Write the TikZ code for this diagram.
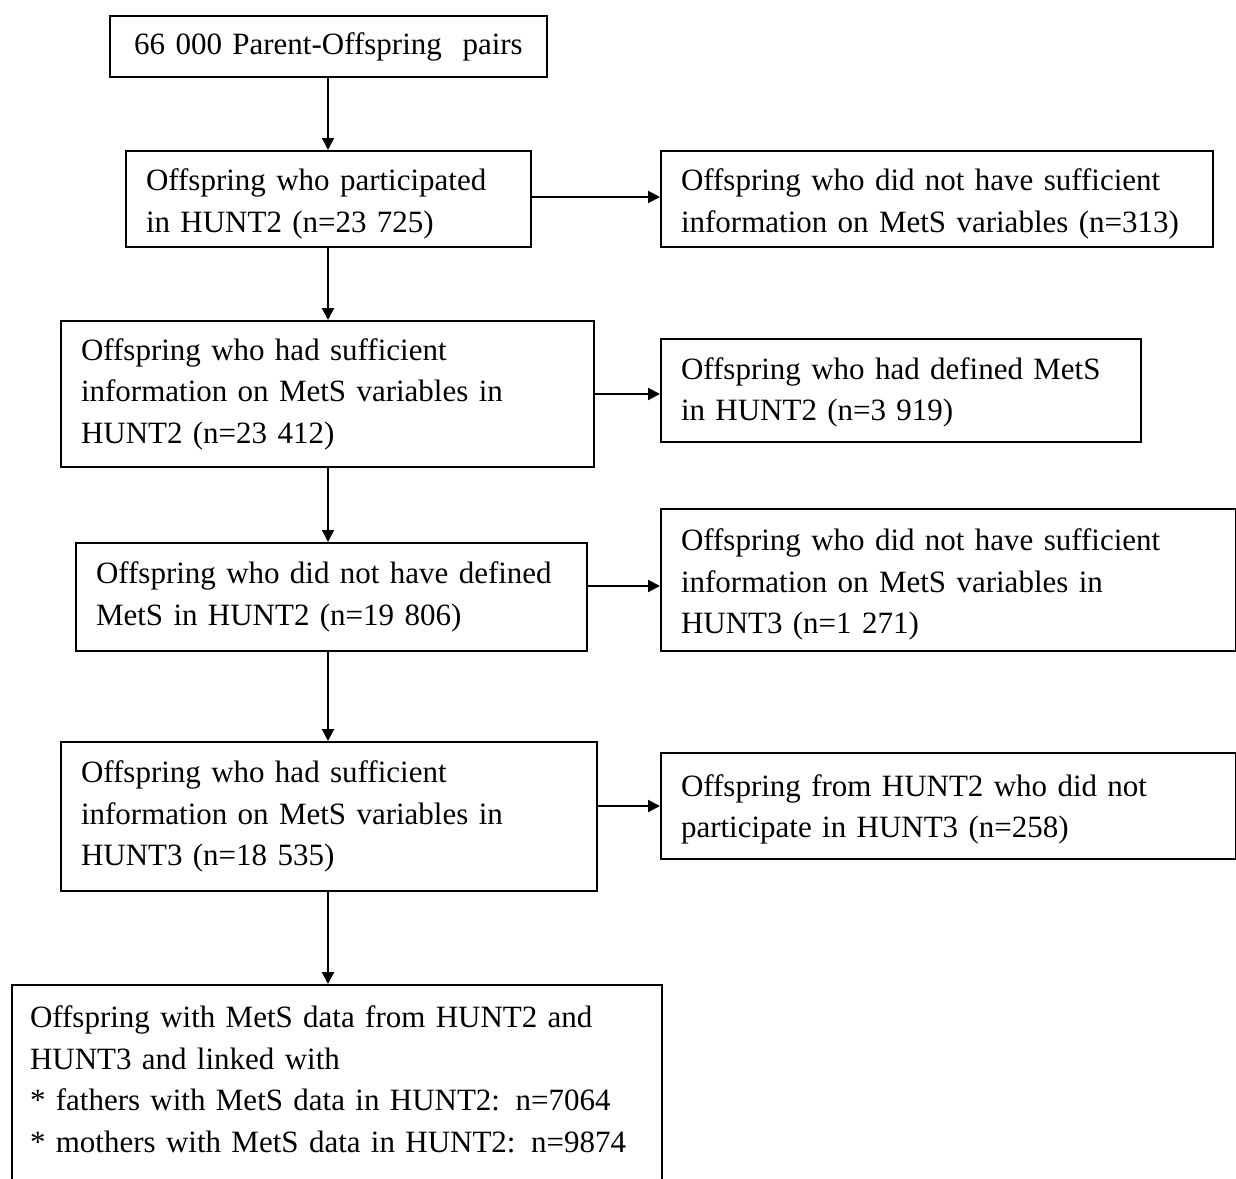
\documentclass[tikz,border=0pt]{standalone}
\usepackage{fontspec}
\setmainfont{Liberation Serif}
\usetikzlibrary{arrows.meta}
\newcommand\liftup[1]{\rule{0pt}{#1}}
\newcommand\dropdn[1]{\rule[-#1]{0pt}{0pt}}
\begin{document}
\begin{tikzpicture}[x=0.5pt,y=-0.5pt,
  box/.style={draw, line width=1pt, inner xsep=10pt, inner ysep=0pt, anchor=north west,
    align=left, font=\fontsize{15.5}{20.8}\selectfont},
  arr/.style={-{Triangle[length=6pt,width=6pt]}, line width=1pt}]
\useasboundingbox (0,0) rectangle (1236,1178);
\clip (0,0) rectangle (1236,1178);
\coordinate (v) at (328,0);
\node[box, align=center, text width=198.5pt, minimum height=30.5pt] (top) at (109,15)
  {66 000 Parent-Offspring\ \ pairs};
\node[box, text width=182.5pt, minimum height=48pt] (b2) at (125,150)
  {\liftup{15.6pt}Offspring who participated\\ in HUNT2 (n=23 725)};
\node[box, text width=256pt, minimum height=48pt] (r1) at (660,150)
  {\liftup{15.6pt}Offspring who did not have sufficient\\ information on MetS variables (n=313)};
\node[box, text width=246.5pt, minimum height=73pt] (b3) at (60,320)
  {Offspring who had sufficient\\ information on MetS variables in\\ HUNT2 (n=23 412)};
\node[box, text width=220pt, minimum height=51.5pt] (r2) at (660,338)
  {\liftup{12.6pt}Offspring who had defined MetS\\ in HUNT2 (n=3 919)};
\node[box, text width=235.5pt, minimum height=54pt] (b4) at (75,542)
  {Offspring who did not have defined\\ MetS in HUNT2 (n=19 806)};
\node[box, text width=267.5pt, minimum height=71pt] (r3) at (660,508)
  {\liftup{15.6pt}Offspring who did not have sufficient\\ information on MetS variables in\\ HUNT3 (n=1 271)};
\node[box, text width=248pt, minimum height=74.5pt] (b5) at (60,741)
  {Offspring who had sufficient\\ information on MetS variables in\\ HUNT3 (n=18 535)};
\node[box, text width=267.5pt, minimum height=53pt] (r4) at (660,752)
  {\liftup{14.1pt}Offspring from HUNT2 who did not\\ participate in HUNT3 (n=258)};
\node[box, inner xsep=9pt, text width=307pt, minimum height=98pt] (b6) at (11,984)
  {Offspring with MetS data from HUNT2 and\\ HUNT3 and linked with\\ {*} fathers with MetS data in HUNT2: n=7064\\ {*} mothers with MetS data in HUNT2: n=9874\dropdn{4pt}};
\draw[arr] (top.south -| v) -- (b2.north -| v);
\draw[arr] (b2.south -| v) -- (b3.north -| v);
\draw[arr] (b3.south -| v) -- (b4.north -| v);
\draw[arr] (b4.south -| v) -- (b5.north -| v);
\draw[arr] (b5.south -| v) -- (b6.north -| v);
\draw[arr] ([yshift=1pt]b2.east) -- ([yshift=1pt]b2.east -| r1.west);
\draw[arr] (b3.east) -- (b3.east -| r2.west);
\draw[arr] ([yshift=-3pt]r3.west -| b4.east) -- ([yshift=-3pt]r3.west);
\draw[arr] (r4.west -| b5.east) -- (r4.west);
\end{tikzpicture}
\end{document}
